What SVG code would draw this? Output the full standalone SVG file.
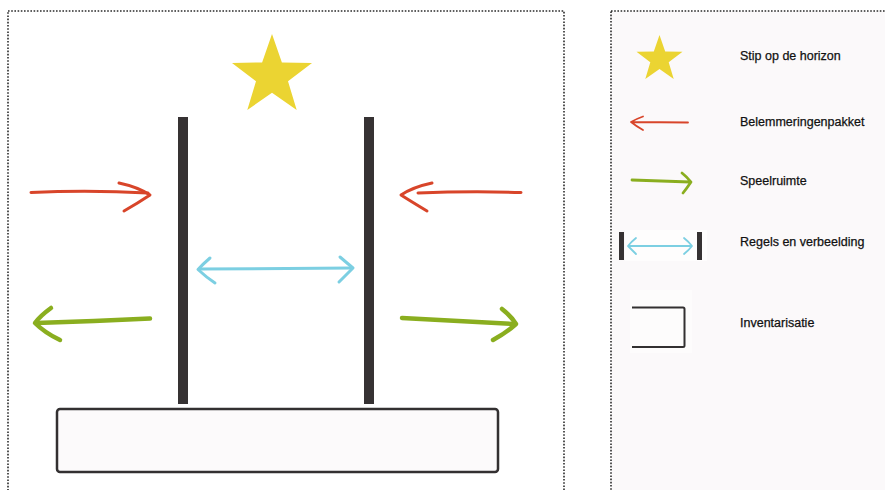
<svg xmlns="http://www.w3.org/2000/svg" width="885" height="490" viewBox="0 0 885 490">
<defs>
<style>
.panel{stroke:#2b2b2b;stroke-width:1.6;stroke-dasharray:1.6 1.6}
.bar{fill:#363233}
.red{fill:none;stroke:#d8452a;stroke-width:3;stroke-linecap:round;stroke-linejoin:round}
.green{fill:none;stroke:#8aae1f;stroke-width:4.5;stroke-linecap:round;stroke-linejoin:round}
.cyan{fill:none;stroke:#7ccfe2;stroke-width:3;stroke-linecap:round;stroke-linejoin:round}
.star{fill:#ebd432}
.lbl{font-family:"Liberation Sans",Arial,sans-serif;font-size:12.5px;fill:#111;stroke:#111;stroke-width:0.25}
</style>
</defs>
<rect width="885" height="490" fill="#ffffff"/>
<g id="panel-main">
<rect class="panel" x="8" y="11" width="556" height="495" fill="#ffffff"/>
</g>
<g id="panel-legend">
<rect class="panel" x="611" y="11" width="290" height="495" fill="#fbf9fa"/>
</g>
<g id="star-main">
<polygon class="star" points="272,34 281.9,62.4 312,63 288,81.2 296.7,110 272,92.8 247.3,110 256,81.2 232,63 262.1,62.4"/>
</g>
<g id="wall-left"><rect class="bar" x="178" y="117" width="10" height="287"/></g>
<g id="wall-right"><rect class="bar" x="364" y="117" width="10" height="287"/></g>
<g id="base"><rect x="57" y="409" width="441" height="63" rx="3" fill="#fcfafb" stroke="#333031" stroke-width="2.5"/></g>
<g id="connectors">
<path class="red" d="M31,192.5 Q90,190 148,193"/>
<path class="red" d="M119,183 Q138,187 150,195 Q138,203 124,211"/>
<path class="red" d="M521,192.5 Q470,191 418,193"/>
<path class="red" d="M432,183 Q413,187 401,195 Q412,202 427,211"/>
<path class="green" d="M150,318.5 Q95,321 36,323"/>
<path class="green" d="M51,308 Q40,316 35,323 Q45,333 60,340"/>
<path class="green" d="M402,318 Q460,321 515,324"/>
<path class="green" d="M502,309 Q511,316 516,324 Q506,333 493,340"/>
<path class="cyan" d="M199,269 L352,268"/>
<path class="cyan" d="M210,258 Q203,264 198,269.5 Q206,277 215,283"/>
<path class="cyan" d="M340,257 Q347,263 353,268 Q346,275 339,282"/>
</g>
<g id="legend-star">
<polygon class="star" points="659.5,35 665.2,51.5 682.5,51.8 668.7,62.3 673.7,79 659.5,69 645.3,79 650.3,62.3 636.5,51.8 653.8,51.5"/>
<text class="lbl" x="740" y="60">Stip op de horizon</text>
</g>
<g id="legend-belemmering">
<path fill="none" stroke="#d8452a" stroke-width="1.8" stroke-linecap="round" stroke-linejoin="round" d="M688,122.5 L632,122 M643,116.5 Q636,119 631,122 Q636,126 643,130"/>
<text class="lbl" x="740" y="126">Belemmeringenpakket</text>
</g>
<g id="legend-speelruimte">
<path fill="none" stroke="#8aae1f" stroke-width="2.8" stroke-linecap="round" stroke-linejoin="round" d="M632,180 Q660,181 690,182 M682,173 Q687,177 691,182 Q687,188 683,193"/>
<text class="lbl" x="740" y="185">Speelruimte</text>
</g>
<g id="legend-regels">
<rect x="625" y="230" width="82" height="31" fill="#fefdfd"/>
<rect class="bar" x="619" y="232" width="5" height="28"/>
<rect class="bar" x="697" y="232" width="5" height="28"/>
<path fill="none" stroke="#7ccfe2" stroke-width="1.8" stroke-linecap="round" stroke-linejoin="round" d="M629,246 L691,246 M636,238 Q631,242 628,246 Q632,250 636,254 M684,238 Q689,242 692,246 Q689,250 684,254"/>
<text class="lbl" x="740" y="246">Regels en verbeelding</text>
</g>
<g id="legend-inventarisatie">
<rect x="630" y="290" width="62" height="63" fill="#fdfcfc"/>
<path fill="none" stroke="#333031" stroke-width="2" stroke-linejoin="round" d="M632,307.5 L683,307.5 Q684.5,307.5 684.5,309 L684.5,345.5 Q684.5,347 683,347 L632,347"/>
<text class="lbl" x="740" y="327">Inventarisatie</text>
</g>
</svg>
